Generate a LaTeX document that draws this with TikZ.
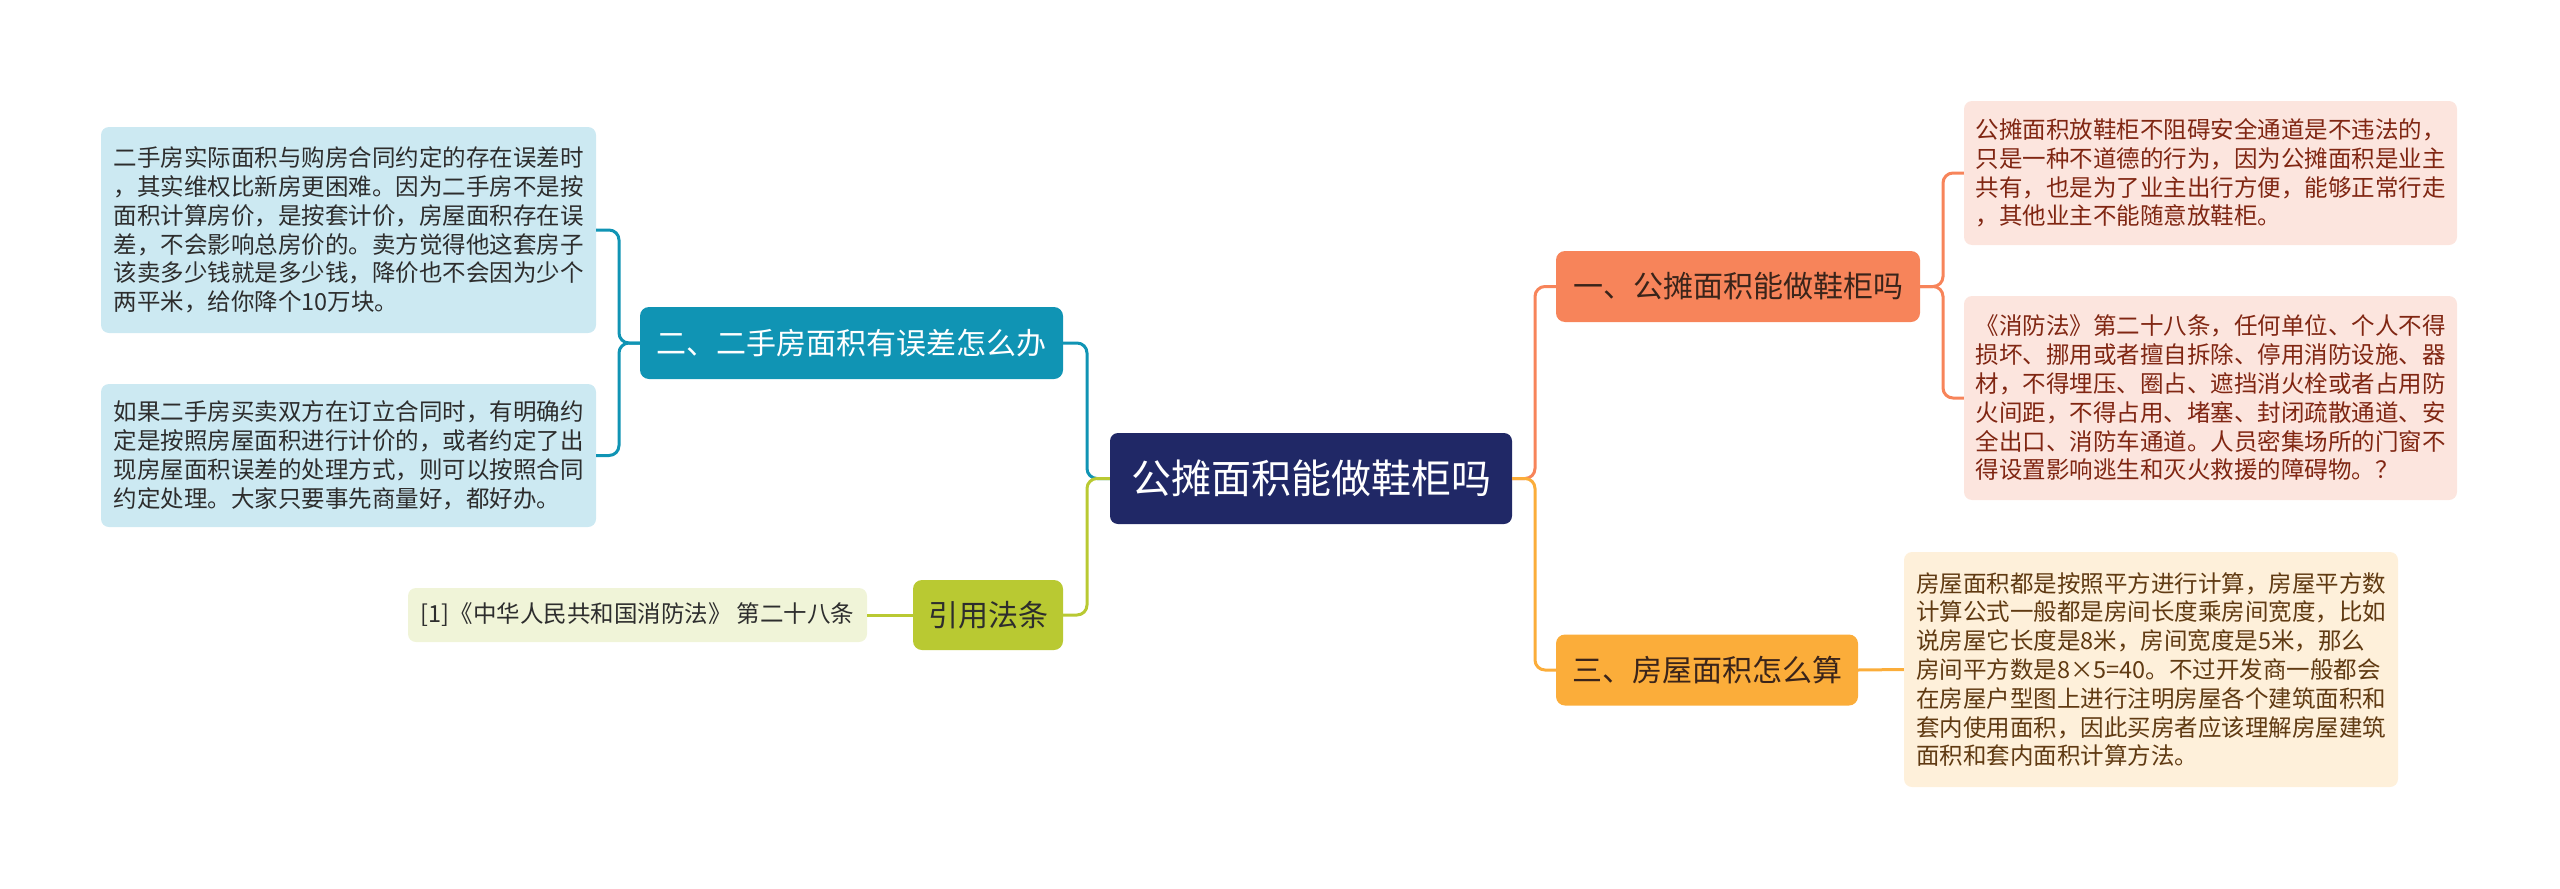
\documentclass[tikz,border=0pt]{standalone}
\usepackage{fontspec}
\usepackage{xcolor}
\usepackage{tikz}
\newfontfamily\cjk{Noto Sans CJK SC}
\definecolor{rootnavy}{RGB}{32,40,102}
\definecolor{oneorange}{RGB}{247,132,90}
\definecolor{threeamber}{RGB}{251,173,58}
\definecolor{twoteal}{RGB}{16,148,180}
\definecolor{citelime}{RGB}{185,201,50}
\definecolor{pinkleaf}{RGB}{252,229,222}
\definecolor{pinktext}{RGB}{128,38,18}
\definecolor{creamleaf}{RGB}{254,240,218}
\definecolor{creamtext}{RGB}{96,58,18}
\definecolor{blueleaf}{RGB}{204,233,242}
\definecolor{limeleaf}{RGB}{240,244,216}
\definecolor{darktext}{RGB}{45,45,45}
\definecolor{browntext}{RGB}{58,36,26}

\begin{document}
\begin{tikzpicture}[
  x=1pt, y=-1pt,
  root/.style={fill=rootnavy, text=white, rounded corners=8pt,
    minimum width=402pt, minimum height=91pt, inner sep=0pt,
    font=\cjk\fontsize{40}{46}\selectfont},
  topic/.style={rounded corners=9pt, minimum height=71pt, inner sep=0pt,
    font=\cjk\fontsize{30}{34}\selectfont},
  leaf/.style={rounded corners=8pt, inner sep=0pt, align=left,
    font=\cjk\fontsize{23.5}{28.8}\selectfont},
  link/.style={line width=3pt, rounded corners=10pt}
]
\useasboundingbox (0,0) rectangle (2560,889);

% root
\node[root] (root) at (1311,478.5) {公摊面积能做鞋柜吗};

% right topics
\node[topic, fill=oneorange, text=browntext, minimum width=364pt] (one) at (1738,286.5) {一、公摊面积能做鞋柜吗};
\node[topic, fill=threeamber, text=browntext, minimum width=302pt] (three) at (1707,670) {三、房屋面积怎么算};

% left topics
\node[topic, fill=twoteal, text=white, minimum width=423pt, minimum height=72pt] (two) at (851.5,343) {二、二手房面积有误差怎么办};
\node[topic, fill=citelime, text=darktext, minimum width=150pt, minimum height=70pt] (cite) at (988,615) {引用法条};

% leaves
\node[leaf, fill=pinkleaf, text=pinktext, minimum width=493pt, minimum height=144pt] (oneA) at (2210.5,173) {公摊面积放鞋柜不阻碍安全通道是不违法的，\\只是一种不道德的行为，因为公摊面积是业主\\共有，也是为了业主出行方便，能够正常行走\\，其他业主不能随意放鞋柜。};
\node[leaf, fill=pinkleaf, text=pinktext, minimum width=493pt, minimum height=204pt] (oneB) at (2210.5,398) {《消防法》第二十八条，任何单位、个人不得\\损坏、挪用或者擅自拆除、停用消防设施、器\\材，不得埋压、圈占、遮挡消火栓或者占用防\\火间距，不得占用、堵塞、封闭疏散通道、安\\全出口、消防车通道。人员密集场所的门窗不\\得设置影响逃生和灭火救援的障碍物。？};
\node[leaf, fill=creamleaf, text=creamtext, minimum width=494pt, minimum height=235pt] (threeA) at (2151,669.5) {房屋面积都是按照平方进行计算，房屋平方数\\计算公式一般都是房间长度乘房间宽度，比如\\说房屋它长度是8米，房间宽度是5米，那么\\房间平方数是8×5=40。不过开发商一般都会\\在房屋户型图上进行注明房屋各个建筑面积和\\套内使用面积，因此买房者应该理解房屋建筑\\面积和套内面积计算方法。};
\node[leaf, fill=blueleaf, text=darktext, minimum width=495pt, minimum height=206pt] (twoA) at (348.5,230) {二手房实际面积与购房合同约定的存在误差时\\，其实维权比新房更困难。因为二手房不是按\\面积计算房价，是按套计价，房屋面积存在误\\差，不会影响总房价的。卖方觉得他这套房子\\该卖多少钱就是多少钱，降价也不会因为少个\\两平米，给你降个10万块。};
\node[leaf, fill=blueleaf, text=darktext, minimum width=495pt, minimum height=143pt] (twoB) at (348.5,455.5) {如果二手房买卖双方在订立合同时，有明确约\\定是按照房屋面积进行计价的，或者约定了出\\现房屋面积误差的处理方式，则可以按照合同\\约定处理。大家只要事先商量好，都好办。};
\node[leaf, fill=limeleaf, text=darktext, minimum width=459pt, minimum height=54pt] (citeA) at (637.5,615) {[1]《中华人民共和国消防法》 第二十八条};

% junctions
\coordinate (jR) at (1535,478.5);
\coordinate (jL) at (1087,478.5);
\coordinate (jOne) at (1943,286.5);
\coordinate (jTwo) at (619,343);

\draw[link, oneorange] (root.east) -- (jR) |- (one.west);
\draw[link, threeamber] (root.east) -- (jR) |- (three.west);
\draw[link, twoteal] (root.west) -- (jL) |- (two.east);
\draw[link, citelime] (root.west) -- (jL) |- (cite.east);

\draw[link, oneorange] (one.east) -- (jOne) |- (oneA.west);
\draw[link, oneorange] (one.east) -- (jOne) |- (oneB.west);
\draw[link, threeamber] (three.east) -- (threeA.west);

\draw[link, twoteal] (two.west) -- (jTwo) |- (twoA.east);
\draw[link, twoteal] (two.west) -- (jTwo) |- (twoB.east);
\draw[link, citelime] (cite.west) -- (citeA.east);

\end{tikzpicture}
\end{document}
